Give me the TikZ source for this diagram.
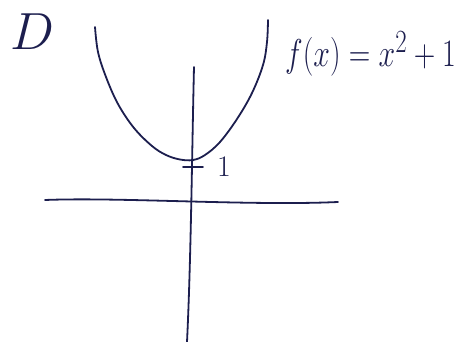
\documentclass[tikz,border=0pt]{standalone}
\usepackage{amsmath, amssymb}
\usepackage{xcolor}
\usepackage{tikz}
\usetikzlibrary{positioning, calc}
\definecolor{inkblue}{RGB}{28, 30, 78}

\begin{document}
\begin{tikzpicture}[x=1pt, y=-1pt,
    ink/.style={draw=inkblue, line width=1.8pt, line cap=round, line join=round},
    handtext/.style={text=inkblue, inner sep=0pt, font=\Huge}]
  \useasboundingbox (0,0) rectangle (464,342);
  % Axes
  \coordinate (xl) at (45,200);
  \coordinate (xr) at (338,202);
  \coordinate (yt) at (194,67);
  \coordinate (yb) at (187,342);
  \draw[ink] (xl) .. controls (120,197) and (250,206) .. (xr);
  \draw[ink] (yt) .. controls (192,150) and (191,260) .. (yb);
  % Parabola
  \draw[ink] plot[smooth, tension=0.6] coordinates {
    (95,27) (98,52) (106,77) (118,104) (134,128) (152,146)
    (166,155) (180,159.5) (193,160) (205,155) (220,142) (237,119)
    (252,93) (263,65) (267,42) (268,20)};
  % Tick at y = 1
  \coordinate (tl) at (183,167);
  \coordinate (tr) at (203,167);
  \draw[ink] (tl) -- (tr);
  \node[handtext, scale=1.2, right=14pt of tr] (one) {$1$};
  % Labels
  \node[handtext, scale=2.1] (dlabel) at (32,32) {$D$};
  \node[handtext, scale=1.2, yscale=1.3, anchor=west] (flabel) at (285,54)
    {$f(x)=x^2+1$};
\end{tikzpicture}
\end{document}
